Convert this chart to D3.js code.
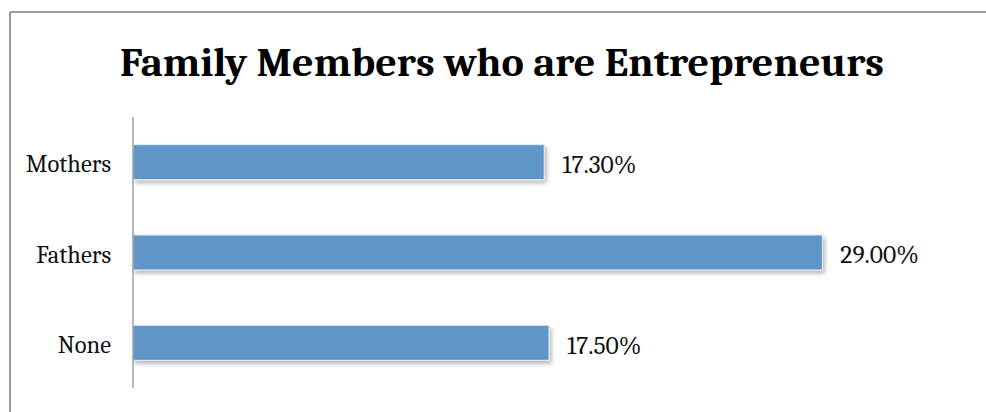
<!DOCTYPE html>
<html>
<head>
<meta charset="utf-8">
<script src="https://cdn.jsdelivr.net/npm/d3@7"></script>
<style>
  html, body { margin: 0; padding: 0; background: #fff; }
  svg { display: block; }
</style>
</head>
<body>
<div id="chart"></div>
<script>
// Share of respondents with entrepreneurs in the family
const categories = ["Mothers", "Fathers", "None"];
const values = [0.173, 0.29, 0.175];
const valueLabels = ["17.30%", "29.00%", "17.50%"];
const titleText = "Family Members who are Entrepreneurs";

const W = 986, H = 412;
const serif = "Cambria, 'Liberation Serif', 'DejaVu Serif', serif";

const svg = d3.select("#chart").append("svg")
  .attr("width", W).attr("height", H);

// soft shadow under each bar
const defs = svg.append("defs");
const f = defs.append("filter").attr("id", "barShadow")
  .attr("x", "-5%").attr("y", "-20%").attr("width", "115%").attr("height", "160%");
f.append("feDropShadow")
  .attr("dx", 2).attr("dy", 3).attr("stdDeviation", 2)
  .attr("flood-color", "#000").attr("flood-opacity", 0.28);

// chart frame (top and left edges)
svg.append("line").attr("x1", 10).attr("x2", W).attr("y1", 12).attr("y2", 12)
  .attr("stroke", "#9a9a9a").attr("stroke-width", 2);
svg.append("line").attr("x1", 10).attr("x2", 10).attr("y1", 12).attr("y2", H)
  .attr("stroke", "#9a9a9a").attr("stroke-width", 2);

// title
const title = svg.append("text")
  .attr("x", 502).attr("y", 76)
  .attr("text-anchor", "middle")
  .attr("font-family", serif)
  .attr("font-weight", "bold")
  .attr("font-size", 40)
  .attr("fill", "#000")
  .text(titleText);
const tw = title.node().getComputedTextLength();
if (tw > 0) title.attr("textLength", 764).attr("lengthAdjust", "spacingAndGlyphs");

const x = d3.scaleLinear().domain([0, 0.35]).range([133, 965]);
const y = d3.scaleBand().domain(categories).range([117, 388])
  .paddingInner(0.6125).paddingOuter(0.30625);

// bars
svg.append("g").selectAll("rect")
  .data(categories)
  .join("rect")
  .attr("x", x(0))
  .attr("y", d => y(d))
  .attr("width", (d, i) => x(values[i]) - x(0))
  .attr("height", y.bandwidth())
  .attr("fill", "#6095c8")
  .attr("stroke", "#e3ecf6")
  .attr("stroke-width", 1)
  .attr("filter", "url(#barShadow)");

// category axis
const axis = svg.append("g")
  .attr("transform", `translate(${x(0)},0)`)
  .call(d3.axisLeft(y).tickSize(0).tickPadding(22));
axis.select(".domain").attr("stroke", "#a0a0a0").attr("stroke-width", 1.5)
  .attr("d", `M0,117V388`);
axis.selectAll("text")
  .attr("font-family", serif)
  .attr("font-size", 24.5)
  .attr("fill", "#111")
  .attr("dy", "0.42em");

// value labels
svg.append("g").selectAll("text")
  .data(categories)
  .join("text")
  .attr("x", (d, i) => x(values[i]) + 18)
  .attr("y", d => y(d) + y.bandwidth() / 2)
  .attr("dy", "0.42em")
  .attr("font-family", serif)
  .attr("font-size", 25.5)
  .attr("fill", "#111")
  .text((d, i) => valueLabels[i]);
</script>
</body>
</html>
